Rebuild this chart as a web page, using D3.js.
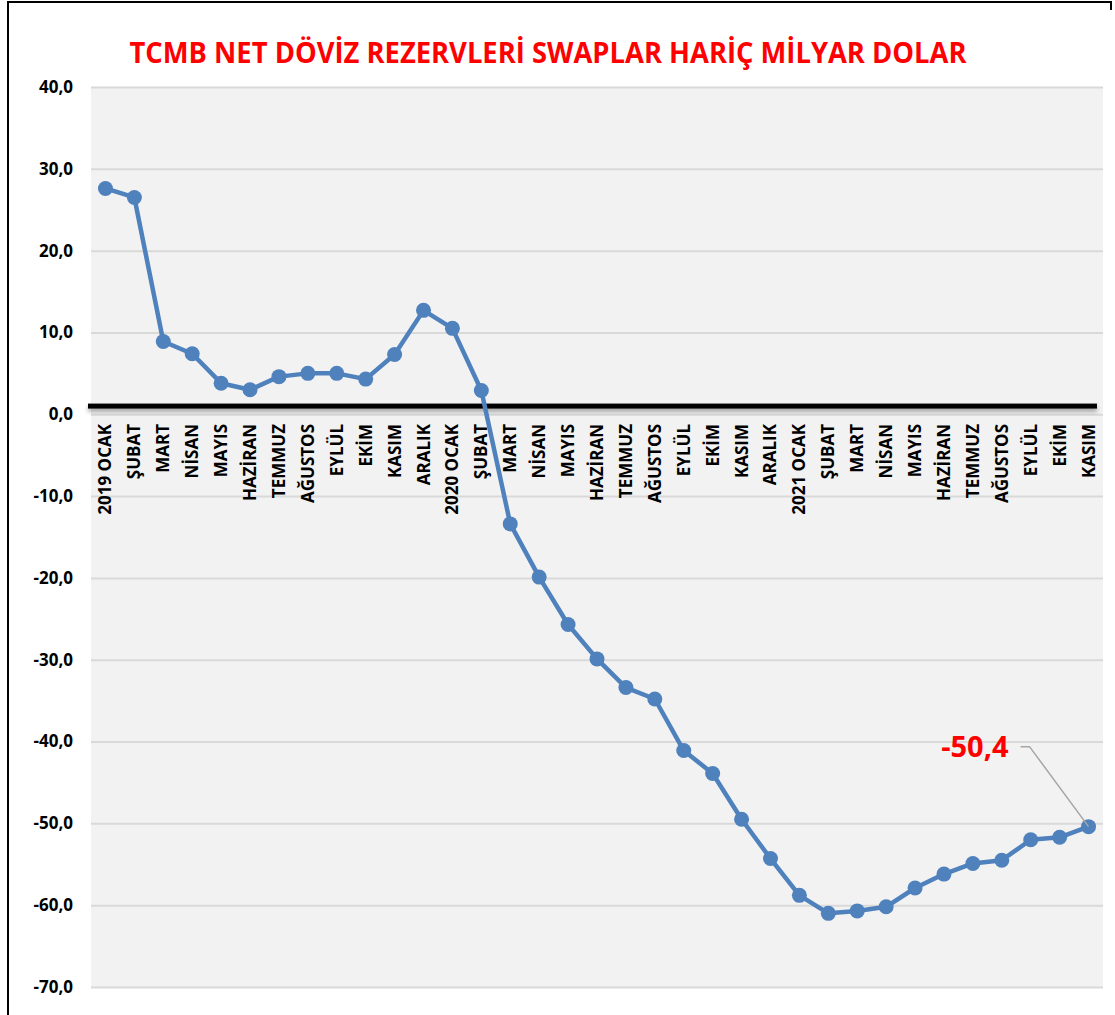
<!DOCTYPE html>
<html>
<head>
<meta charset="utf-8">
<script src="https://cdn.jsdelivr.net/npm/d3@7"></script>
<style>
  body { margin: 0; background: #ffffff; }
  svg { display: block; }
  text { font-family: "Open Sans", "Noto Sans", sans-serif; font-weight: bold; }
</style>
</head>
<body>
<div id="chart"></div>
<script>
// ---- veriler (milyar dolar) ----
const months = [
  "2019 OCAK", "ŞUBAT", "MART", "NİSAN", "MAYIS", "HAZİRAN", "TEMMUZ", "AĞUSTOS",
  "EYLÜL", "EKİM", "KASIM", "ARALIK",
  "2020 OCAK", "ŞUBAT", "MART", "NİSAN", "MAYIS", "HAZİRAN", "TEMMUZ", "AĞUSTOS",
  "EYLÜL", "EKİM", "KASIM", "ARALIK",
  "2021 OCAK", "ŞUBAT", "MART", "NİSAN", "MAYIS", "HAZİRAN", "TEMMUZ", "AĞUSTOS",
  "EYLÜL", "EKİM", "KASIM"
];
const reserves = [
  27.6, 26.5, 8.9, 7.4, 3.8, 3.0, 4.6, 5.0, 5.0, 4.3, 7.3, 12.7,
  10.5, 2.9, -13.4, -19.9, -25.7, -29.9, -33.4, -34.8, -41.1, -43.9, -49.5, -54.3,
  -58.8, -61.0, -60.7, -60.2, -57.9, -56.2, -54.9, -54.5, -52.0, -51.7, -50.4
];
const yTicks = [40, 30, 20, 10, 0, -10, -20, -30, -40, -50, -60, -70];
const refLevel = 1.0;      // kalın siyah çizgi
const title = "TCMB NET DÖVİZ REZERVLERİ SWAPLAR HARİÇ MİLYAR DOLAR";
const lastLabel = "-50,4";

const W = 1115, H = 1015;
const plot = {left: 91, right: 1103, top: 87, bottom: 987};

const svg = d3.select("#chart").append("svg")
  .attr("width", W).attr("height", H);

const defs = svg.append("defs");
const sh = defs.append("filter").attr("id", "shadow")
  .attr("x", "-5%").attr("y", "-100%").attr("width", "110%").attr("height", "400%");
sh.append("feDropShadow").attr("dx", 0).attr("dy", 3)
  .attr("stdDeviation", 2).attr("flood-color", "#000").attr("flood-opacity", 0.35);

// dış çerçeve (üst + sol)
svg.append("path")
  .attr("d", "M8,1016 L8,2 L1111,2 L1111,10")
  .attr("fill", "none").attr("stroke", "#000").attr("stroke-width", 2);

const x = d3.scaleBand()
  .domain(d3.range(months.length))
  .range([plot.left, plot.right]);
const cx = i => x(i) + x.bandwidth() / 2;

const y = d3.scaleLinear()
  .domain([-70, 40])
  .range([plot.bottom, plot.top]);

// çizim alanı arka planı
svg.append("rect")
  .attr("x", plot.left).attr("y", plot.top)
  .attr("width", plot.right - plot.left).attr("height", plot.bottom - plot.top)
  .attr("fill", "#f2f2f2");

// y ekseni + ızgara
const yAxis = svg.append("g")
  .attr("transform", "translate(" + plot.left + ",0)")
  .call(d3.axisLeft(y)
    .tickValues(yTicks)
    .tickSize(-(plot.right - plot.left))
    .tickPadding(18)
    .tickFormat(d => d.toFixed(1).replace(".", ",")));
yAxis.select(".domain").remove();
yAxis.selectAll(".tick line").attr("stroke", "#d9d9d9").attr("stroke-width", 2);
yAxis.selectAll(".tick text")
  .attr("fill", "#000").style("font-size", "17px");

// x etiketleri (dikey)
svg.append("g").selectAll("text")
  .data(months)
  .enter()
  .append("text")
  .attr("transform", (d, i) => "translate(" + (cx(i) + 6) + ",424) rotate(-90)")
  .attr("text-anchor", "end")
  .style("font-size", "17px")
  .attr("fill", "#000")
  .text(d => d);

// kalın siyah çizgi (gölgeli)
svg.append("rect")
  .attr("x", plot.left - 3).attr("width", plot.right - plot.left - 3)
  .attr("y", y(refLevel) - 2.5).attr("height", 5)
  .attr("fill", "#000")
  .attr("filter", "url(#shadow)");

// seri
const line = d3.line().x((d, i) => cx(i)).y(d => y(d));
svg.append("path")
  .datum(reserves)
  .attr("d", line)
  .attr("fill", "none")
  .attr("stroke", "#4f81bd")
  .attr("stroke-width", 4.5)
  .attr("stroke-linejoin", "round");

svg.append("g").selectAll("circle")
  .data(reserves)
  .enter()
  .append("circle")
  .attr("cx", (d, i) => cx(i))
  .attr("cy", d => y(d))
  .attr("r", 7.5)
  .attr("fill", "#4f81bd");

// son değer etiketi ve bağlantı çizgisi
const li = reserves.length - 1;
const lx = cx(li), ly = y(reserves[li]);
svg.append("polyline")
  .attr("points", [[lx - 68, ly - 80], [lx - 59, ly - 80], [lx, ly]].map(p => p.join(",")).join(" "))
  .attr("fill", "none").attr("stroke", "#a6a6a6").attr("stroke-width", 1.5);
svg.append("text")
  .attr("x", lx - 80).attr("y", ly - 70)
  .attr("text-anchor", "end")
  .attr("fill", "#ff0000")
  .style("font-size", "29px")
  .text(lastLabel);

// başlık
svg.append("text")
  .attr("x", 548).attr("y", 63)
  .attr("text-anchor", "middle")
  .attr("fill", "#ff0000")
  .style("font-size", "29px")
  .attr("textLength", 837)
  .attr("lengthAdjust", "spacingAndGlyphs")
  .text(title);
</script>
</body>
</html>
